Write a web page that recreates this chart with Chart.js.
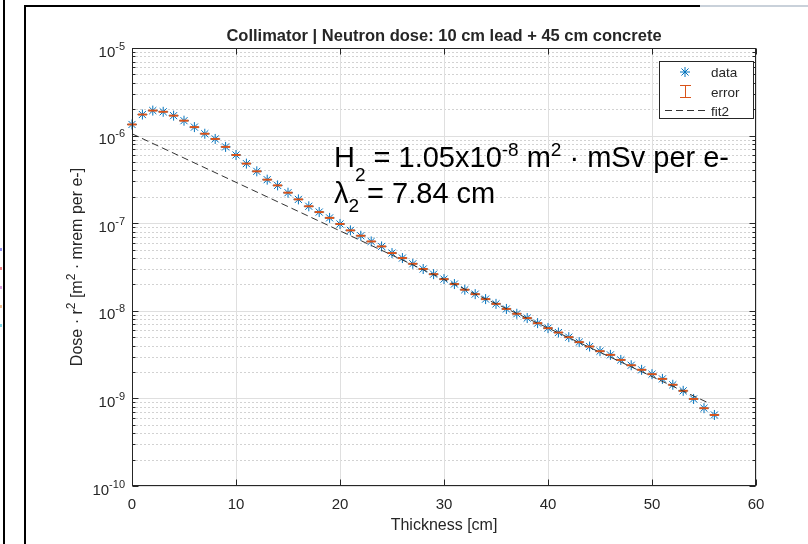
<!DOCTYPE html>
<html>
<head>
<meta charset="utf-8">
<script src="https://cdn.jsdelivr.net/npm/chart.js@4.4.1/dist/chart.umd.min.js"></script>
<style>
  html, body { margin: 0; padding: 0; background: #fff; }
  #wrap { width: 808px; height: 544px; }
</style>
</head>
<body>
<div id="wrap"><canvas id="doseChart" width="808" height="544"></canvas></div>
<script>
// thickness in cm, dose * r^2 in m^2 mrem per e-
const thickness = [0,1,2,3,4,5,6,7,8,9,10,11,12,13,14,15,16,17,18,19,20,21,22,23,24,25,26,27,28,
  29,30,31,32,33,34,35,36,37,38,39,40,41,42,43,44,45,46,47,48,49,50,51,52,53,54,55,56];
const dose = [1.34e-6,1.74e-6,1.93e-6,1.87e-6,1.69e-6,1.48e-6,1.25e-6,1.05e-6,9.16e-7,7.43e-7,6.01e-7,
  4.79e-7,3.91e-7,3.14e-7,2.70e-7,2.23e-7,1.87e-7,1.56e-7,1.34e-7,1.15e-7,9.8e-8,
  8.28e-8,7.19e-8,6.19e-8,5.43e-8,4.56e-8,4.0e-8,3.44e-8,3.0e-8,2.62e-8,2.30e-8,
  2.02e-8,1.74e-8,1.55e-8,1.36e-8,1.20e-8,1.05e-8,9.25e-9,8.26e-9,7.23e-9,6.34e-9,
  5.65e-9,5.0e-9,4.39e-9,3.91e-9,3.46e-9,3.14e-9,2.75e-9,2.39e-9,2.12e-9,1.89e-9,
  1.67e-9,1.43e-9,1.22e-9,9.86e-10,7.73e-10,6.47e-10];
// fit2 end points (straight line on the log axis)
const fitX = [0, 55.5];
const fitY = [1.05e-6, 8.8e-10];

const xTicks = [0,10,20,30,40,50,60];
const yTickExp = [-10,-9,-8,-7,-6,-5];

const FONT = '"Liberation Sans", Arial, Helvetica, sans-serif';
const AX = '#262626';
const BLUE = '#0072BD';
const ORANGE = '#D95319';

function runs(ctx, parts, x, y, align) {
  let total = 0;
  parts.forEach(p => {
    ctx.font = (p.bold ? 'bold ' : '') + p.size + 'px ' + FONT;
    p.w = ctx.measureText(p.t).width;
    total += p.w;
  });
  let cx = x;
  if (align === 'right') cx = x - total;
  if (align === 'center') cx = x - total / 2;
  parts.forEach(p => {
    ctx.font = (p.bold ? 'bold ' : '') + p.size + 'px ' + FONT;
    ctx.fillText(p.t, cx, y + (p.dy || 0));
    cx += p.w;
  });
}

function star(ctx, x, y, r) {
  ctx.beginPath();
  ctx.moveTo(x - r, y); ctx.lineTo(x + r, y);
  ctx.moveTo(x, y - r); ctx.lineTo(x, y + r);
  const d = r * Math.SQRT1_2;
  ctx.moveTo(x - d, y - d); ctx.lineTo(x + d, y + d);
  ctx.moveTo(x - d, y + d); ctx.lineTo(x + d, y - d);
  ctx.stroke();
}

const matlabAxes = {
  id: 'matlabAxes',
  beforeDraw(chart) {
    const ctx = chart.ctx;
    ctx.save();
    ctx.fillStyle = '#fff';
    ctx.fillRect(0, 0, chart.width, chart.height);
    // frames of the figure windows
    ctx.strokeStyle = '#000';
    ctx.lineWidth = 2;
    ctx.beginPath();
    ctx.moveTo(4, 0); ctx.lineTo(4, 544);
    ctx.moveTo(25, 544); ctx.lineTo(25, 6); ctx.lineTo(700, 6);
    ctx.stroke();
    ctx.strokeStyle = '#c9d1da';
    ctx.beginPath(); ctx.moveTo(700, 6); ctx.lineTo(808, 6); ctx.stroke();
    // bits of the neighbouring legend
    const bits = ['#8f8ff0', '#f08080', '#d9a0e0', '#f0c090', '#80d8e8'];
    bits.forEach((c, i) => { ctx.fillStyle = c; ctx.fillRect(0, 248 + i * 19, 2, 3); });
    ctx.restore();
  },
  beforeDatasetsDraw(chart) {
    const ctx = chart.ctx, xs = chart.scales.x, ys = chart.scales.y, a = chart.chartArea;
    ctx.save();
    ctx.lineWidth = 1;
    // minor y grid
    ctx.strokeStyle = '#d2d2d2';
    ctx.setLineDash([2, 2]);
    yTickExp.slice(0, -1).forEach(e => {
      for (let m = 2; m <= 9; m++) {
        const py = Math.round(ys.getPixelForValue(m * Math.pow(10, e))) + 0.5;
        ctx.beginPath(); ctx.moveTo(a.left, py); ctx.lineTo(a.right, py); ctx.stroke();
      }
    });
    ctx.setLineDash([]);
    ctx.strokeStyle = '#dfdfdf';
    yTickExp.forEach(e => {
      const py = Math.round(ys.getPixelForValue(Math.pow(10, e))) + 0.5;
      ctx.beginPath(); ctx.moveTo(a.left, py); ctx.lineTo(a.right, py); ctx.stroke();
    });
    xTicks.forEach(v => {
      const px = Math.round(xs.getPixelForValue(v)) + 0.5;
      ctx.beginPath(); ctx.moveTo(px, a.top); ctx.lineTo(px, a.bottom); ctx.stroke();
    });
    ctx.restore();
  },
  afterDatasetsDraw(chart) {
    const ctx = chart.ctx, xs = chart.scales.x, ys = chart.scales.y, a = chart.chartArea;
    const L = Math.round(a.left) + 0.5, R = Math.round(a.right) - 0.5;
    const T = Math.round(a.top) + 0.5, B = Math.round(a.bottom) - 0.5;
    ctx.save();
    ctx.strokeStyle = AX;
    ctx.lineWidth = 1;
    ctx.strokeRect(L, T, R - L, B - T);
    ctx.beginPath();
    xTicks.forEach(v => {
      const px = Math.round(xs.getPixelForValue(v)) + 0.5;
      ctx.moveTo(px, B); ctx.lineTo(px, B - 6);
      ctx.moveTo(px, T); ctx.lineTo(px, T + 6);
    });
    yTickExp.forEach((e, i) => {
      const py = Math.round(ys.getPixelForValue(Math.pow(10, e))) + 0.5;
      ctx.moveTo(L, py); ctx.lineTo(L + 6, py);
      ctx.moveTo(R, py); ctx.lineTo(R - 6, py);
      if (i < yTickExp.length - 1) {
        for (let m = 2; m <= 9; m++) {
          const q = Math.round(ys.getPixelForValue(m * Math.pow(10, e))) + 0.5;
          ctx.moveTo(L, q); ctx.lineTo(L + 3, q);
          ctx.moveTo(R, q); ctx.lineTo(R - 3, q);
        }
      }
    });
    ctx.stroke();

    // tick labels
    ctx.fillStyle = AX;
    ctx.textBaseline = 'alphabetic';
    ctx.textAlign = 'left';
    xTicks.forEach(v => {
      runs(ctx, [{ t: String(v), size: 15 }], xs.getPixelForValue(v), 508.5, 'center');
    });
    yTickExp.forEach(e => {
      const py = ys.getPixelForValue(Math.pow(10, e));
      runs(ctx, [{ t: '10', size: 15, dy: 8.5 }, { t: String(e), size: 11, dy: 1.5 }], a.left - 7, py, 'right');
    });

    // title and axis labels
    const cx = (a.left + a.right) / 2;
    runs(ctx, [{ t: 'Collimator | Neutron dose: 10 cm lead + 45 cm concrete', size: 16.5, bold: true }], cx, 41, 'center');
    runs(ctx, [{ t: 'Thickness [cm]', size: 16 }], cx, 530, 'center');
    ctx.save();
    ctx.translate(82, (a.top + a.bottom) / 2);
    ctx.rotate(-Math.PI / 2);
    runs(ctx, [
      { t: 'Dose \u00b7 r', size: 16 }, { t: '2', size: 12, dy: -7 },
      { t: ' [m', size: 16 }, { t: '2', size: 12, dy: -7 },
      { t: ' \u00b7 mrem per e-]', size: 16 }
    ], 0, 0, 'center');
    ctx.restore();

    // fit annotation
    ctx.fillStyle = '#000';
    runs(ctx, [
      { t: 'H', size: 29 }, { t: '2', size: 19, dy: 14 },
      { t: ' = 1.05x10', size: 29 }, { t: '-8', size: 19, dy: -11 },
      { t: ' m', size: 29 }, { t: '2', size: 19, dy: -11 },
      { t: ' \u00b7 mSv per e-', size: 29 }
    ], 334, 167, 'left');
    runs(ctx, [
      { t: '\u03bb', size: 29 }, { t: '2', size: 19, dy: 9 },
      { t: ' = 7.84 cm', size: 29 }
    ], 334, 203, 'left');

    // legend
    ctx.fillStyle = '#fff';
    ctx.fillRect(659.5, 61.5, 94, 57);
    ctx.strokeStyle = AX;
    ctx.strokeRect(659.5, 61.5, 94, 57);
    ctx.strokeStyle = BLUE;
    ctx.lineWidth = 1;
    star(ctx, 685, 72, 5);
    ctx.strokeStyle = ORANGE;
    ctx.beginPath();
    ctx.moveTo(685.5, 85); ctx.lineTo(685.5, 98);
    ctx.moveTo(680, 85.5); ctx.lineTo(691, 85.5);
    ctx.moveTo(680, 97.5); ctx.lineTo(691, 97.5);
    ctx.stroke();
    ctx.strokeStyle = '#333';
    ctx.setLineDash([7, 4]);
    ctx.beginPath(); ctx.moveTo(665, 110.5); ctx.lineTo(708, 110.5); ctx.stroke();
    ctx.setLineDash([]);
    ctx.fillStyle = AX;
    runs(ctx, [{ t: 'data', size: 13.5 }], 711, 77, 'left');
    runs(ctx, [{ t: 'error', size: 13.5 }], 711, 96.5, 'left');
    runs(ctx, [{ t: 'fit2', size: 13.5 }], 711, 115.5, 'left');
    ctx.restore();
  }
};

new Chart(document.getElementById('doseChart'), {
  type: 'scatter',
  data: {
    datasets: [
      {
        label: 'fit2',
        data: fitX.map((x, i) => ({ x: x, y: fitY[i] })),
        showLine: true,
        borderColor: '#333333',
        borderWidth: 1,
        borderDash: [7, 4],
        pointRadius: 0,
        order: 0,
        clip: false
      },
      {
        label: 'error',
        data: thickness.map((x, i) => ({ x: x, y: dose[i] })),
        pointStyle: 'line',
        pointRadius: 4.5,
        borderColor: ORANGE,
        borderWidth: 2,
        order: 1,
        clip: false
      },
      {
        label: 'data',
        data: thickness.map((x, i) => ({ x: x, y: dose[i] })),
        pointStyle: 'star',
        pointRadius: 5,
        borderColor: BLUE,
        backgroundColor: 'rgba(0,0,0,0)',
        borderWidth: 1,
        order: 2,
        clip: false
      }
    ]
  },
  options: {
    responsive: false,
    animation: false,
    devicePixelRatio: 1,
    events: [],
    layout: { padding: { left: 132, right: 52, top: 48, bottom: 58 } },
    scales: {
      x: { type: 'linear', min: 0, max: 60, display: false },
      y: { type: 'logarithmic', min: 1e-10, max: 1e-5, display: false }
    },
    plugins: {
      legend: { display: false },
      tooltip: { enabled: false },
      title: { display: false }
    }
  },
  plugins: [matlabAxes]
});
</script>
</body>
</html>
